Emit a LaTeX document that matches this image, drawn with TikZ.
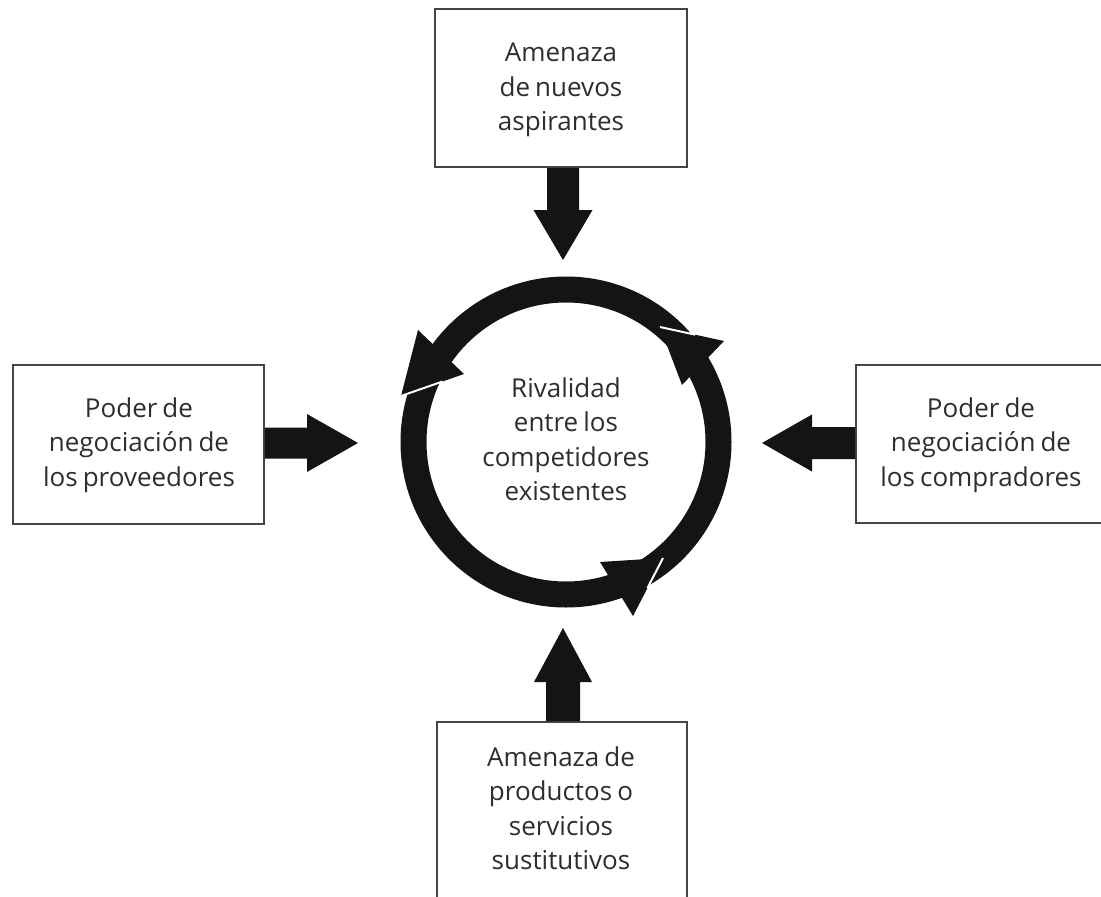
\documentclass[tikz,border=0pt]{standalone}
\usepackage{fontspec}
\setmainfont[WordSpace=0.75]{Open Sans}
\usetikzlibrary{calc}
\definecolor{txtc}{HTML}{2E2E2E}
\definecolor{framec}{HTML}{454545}
\definecolor{ink}{HTML}{141414}
\begin{document}
\begin{tikzpicture}[x=1pt,y=-1pt,
  forcebox/.style={draw=framec, line width=1.8pt, fill=white, inner sep=0pt},
  ftxt/.style={align=center, text=txtc, inner sep=0pt, font=\fontsize{26}{34.5}\selectfont},
  gapline/.style={white, line width=2pt}]
\useasboundingbox (0,0) rectangle (1101,897);
\clip (0,0) rectangle (1101,897);
\fill[white] (0,0) rectangle (1101,897);

% boxes
\node[forcebox, minimum width=252pt, minimum height=158pt] (nuevos) at (561,88) {};
\node[ftxt] (nuevostxt) at (561,90) {Amenaza\\de nuevos\\aspirantes};
\node[forcebox, minimum width=251pt, minimum height=159pt] (prov) at (138.5,444.5) {};
\node[ftxt] (provtxt) at (139,445) {Poder de\\negociación de\\los proveedores};
\node[forcebox, minimum width=260pt, minimum height=158pt, anchor=west] (comp) at (855,444) {};
\node[ftxt] (comptxt) at (981,445) {Poder de\\negociación de\\los compradores};
\node[forcebox, minimum width=250pt, minimum height=220pt, anchor=north] (sust) at (562,721) {};
\node[ftxt] (susttxt) at (561,808) {Amenaza de\\productos o\\servicios\\sustitutivos};

% ring
\coordinate (c) at (566,442);
\draw[ink, line width=26pt] (c) circle[radius=152.5pt];
\node[ftxt] (rival) at (566,439) {Rivalidad\\entre los\\competidores\\existentes};

% ring arrow heads
\coordinate (rT) at (660,327); \coordinate (rO) at (724,341); \coordinate (rI) at (682,385);
\coordinate (lT) at (401,396); \coordinate (lO) at (418,330); \coordinate (lI) at (464,374);
\coordinate (bT) at (663,558); \coordinate (bO) at (633,616); \coordinate (bI) at (600,562);
\fill[ink] (rT) -- (rO) -- (rI) -- cycle;
\fill[ink] (lT) -- (lO) -- (lI) -- cycle;
\fill[ink] (bT) -- (bO) -- (bI) -- cycle;
\draw[gapline] (rT) -- ($(rT)!0.55!(rO)$);
\draw[gapline] (lT) -- ($(lT)!0.66!(lI)$);
\draw[gapline] (bT) -- ($(bT)!0.52!(bO)$);

% block arrows
\coordinate (ntip) at (563,260);
\coordinate (nA) at (nuevos.south -| ntip);
\fill[ink] ($(nA)+(-16,0)$) -- ($(nA)+(16,0)$) -- ($(ntip)+(16,-50)$) -- ($(ntip)+(29.5,-50)$)
  -- (ntip) -- ($(ntip)+(-29.5,-50)$) -- ($(ntip)+(-16,-50)$) -- cycle;

\coordinate (stip) at (563,628);
\coordinate (sA) at (sust.north -| stip);
\fill[ink] ($(sA)+(-17,0)$) -- ($(sA)+(17,0)$) -- ($(stip)+(17,54)$) -- ($(stip)+(29,54)$)
  -- (stip) -- ($(stip)+(-29,54)$) -- ($(stip)+(-17,54)$) -- cycle;

\coordinate (ptip) at (358,443);
\coordinate (pA) at (prov.east |- ptip);
\fill[ink] ($(pA)+(0,-15.5)$) -- ($(ptip)+(-51,-15.5)$) -- ($(ptip)+(-51,-29)$)
  -- (ptip) -- ($(ptip)+(-51,29)$) -- ($(ptip)+(-51,15.5)$) -- ($(pA)+(0,15.5)$) -- cycle;

\coordinate (ctip) at (762,443);
\coordinate (cA) at (comp.west |- ctip);
\fill[ink] ($(cA)+(0,-16)$) -- ($(ctip)+(50,-16)$) -- ($(ctip)+(50,-28.5)$)
  -- (ctip) -- ($(ctip)+(50,28.5)$) -- ($(ctip)+(50,16)$) -- ($(cA)+(0,16)$) -- cycle;
\end{tikzpicture}
\end{document}
